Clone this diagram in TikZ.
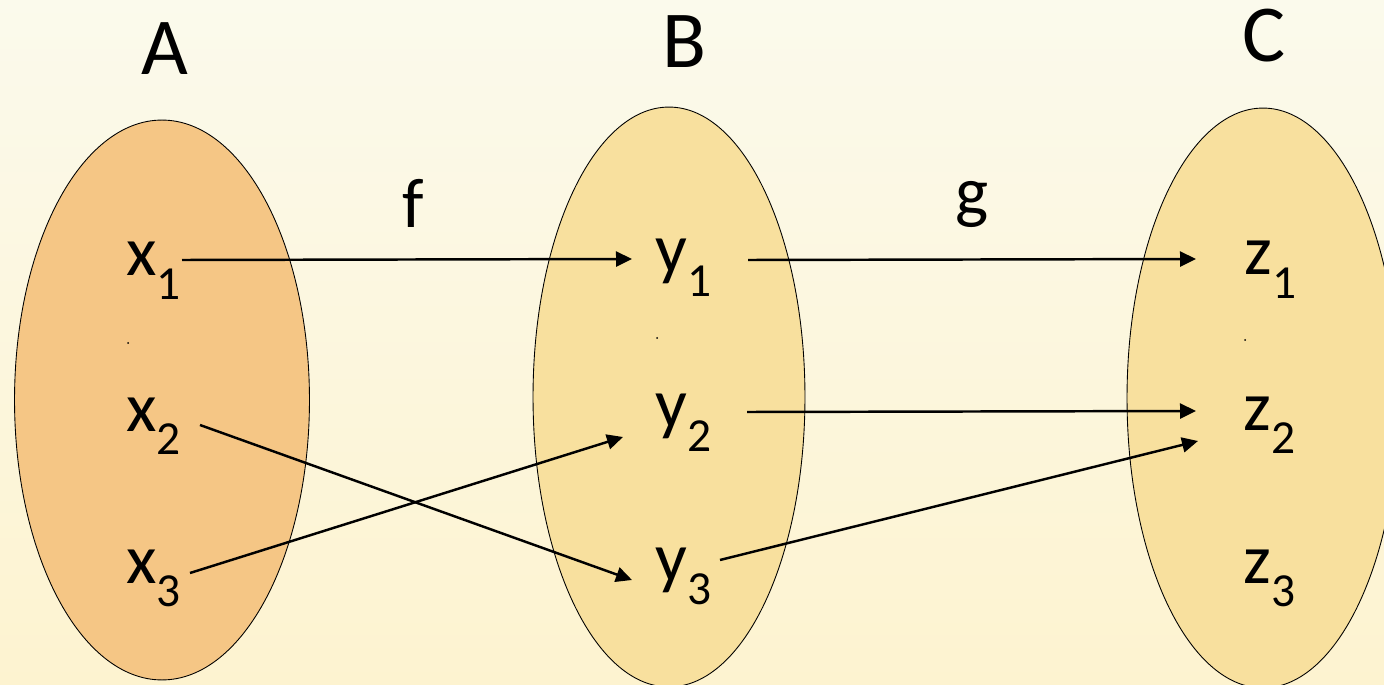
\documentclass[tikz,border=0pt]{standalone}
\usepackage{fontspec}
\setmainfont{Carlito}
\usepackage{tikz}
\usetikzlibrary{shapes.geometric, arrows.meta, positioning, calc}
\definecolor{bgtop}{RGB}{251,250,236}
\definecolor{bgbottom}{RGB}{253,243,208}
\definecolor{setorange}{RGB}{245,198,133}
\definecolor{setyellow}{RGB}{248,224,158}
\tikzstyle{set} = [ellipse, draw=black, line width=0.5pt, inner sep=0pt]
\tikzstyle{elem} = [anchor=base west, inner sep=0pt, font=\fontsize{40}{40}\selectfont]
\tikzstyle{setname} = [anchor=base, inner sep=0pt, font=\fontsize{46}{46}\selectfont]
\tikzstyle{mapname} = [anchor=base, inner sep=0pt, font=\fontsize{40}{40}\selectfont]
\tikzstyle{arrow} = [line width=1.4pt, -{Triangle[length=0.32cm, width=0.3cm]}]
\newcommand{\idx}[1]{\raisebox{-0.48cm}{\fontsize{27}{27}\selectfont #1}}

\begin{document}
\begin{tikzpicture}[x=0.02cm, y=0.02cm]
	% Hintergrund
	\useasboundingbox (0,0) rectangle (1384,684);
	\clip (0,0) rectangle (1384,684);
	\shade[top color=bgtop, bottom color=bgbottom] (0,0) rectangle (1384,684);
	% Mengen
	\node[set, fill=setorange, minimum width=5.9cm, minimum height=11.2cm] (setA) at (162,284) {};
	\node[set, fill=setyellow, minimum width=5.44cm, minimum height=11.6cm] (setB) at (669,287) {};
	\node[set, fill=setyellow, minimum width=5.44cm, minimum height=11.6cm] (setC) at (1263,286) {};
	\node[setname] (nameA) at (165,609) {A};
	\node[setname] (nameB) at (684,616) {B};
	\node[setname] (nameC) at (1264,622) {C};
	% Elemente
	\node[elem] (x1) at (126,408) {x\idx{1}};
	\node[elem] (x2) at (126,253) {x\idx{2}};
	\node[elem] (x3) at (126,101) {x\idx{3}};
	\node[elem] (y1) at (655,411) {y\idx{1}};
	\node[elem] (y2) at (655,256) {y\idx{2}};
	\node[elem] (y3) at (655,103) {y\idx{3}};
	\node[elem] (z1) at (1244,409) {z\idx{1}};
	\node[elem] (z2) at (1243,254) {z\idx{2}};
	\node[elem] (z3) at (1243,101) {z\idx{3}};
	\fill (128,341) circle (1); % Punkt in A
	\fill (657,346) circle (1); % Punkt in B
	\fill (1245,344) circle (1); % Punkt in C
	% Abbildungen
	\node[mapname] (f) at (413,456) {f};
	\node[mapname] (g) at (972,468) {g};
	\draw[arrow] ($(x1.base west)+(56,16)$) -- ($(y1.base west)+(-23,14)$);
	\draw[arrow] ($(x2.base west)+(74,6)$) -- ($(y3.base west)+(-23,1)$);
	\draw[arrow] ($(x3.base west)+(64,10)$) -- ($(y2.base west)+(-32,-9)$);
	\draw[arrow] ($(y1.base west)+(93,13)$) -- ($(z1.base west)+(-48,16)$);
	\draw[arrow] ($(y2.base west)+(92,16)$) -- ($(z2.base west)+(-47,19)$);
	\draw[arrow] ($(y3.base west)+(65,21)$) -- ($(z2.base west)+(-45,-11)$);
\end{tikzpicture}
\end{document}
